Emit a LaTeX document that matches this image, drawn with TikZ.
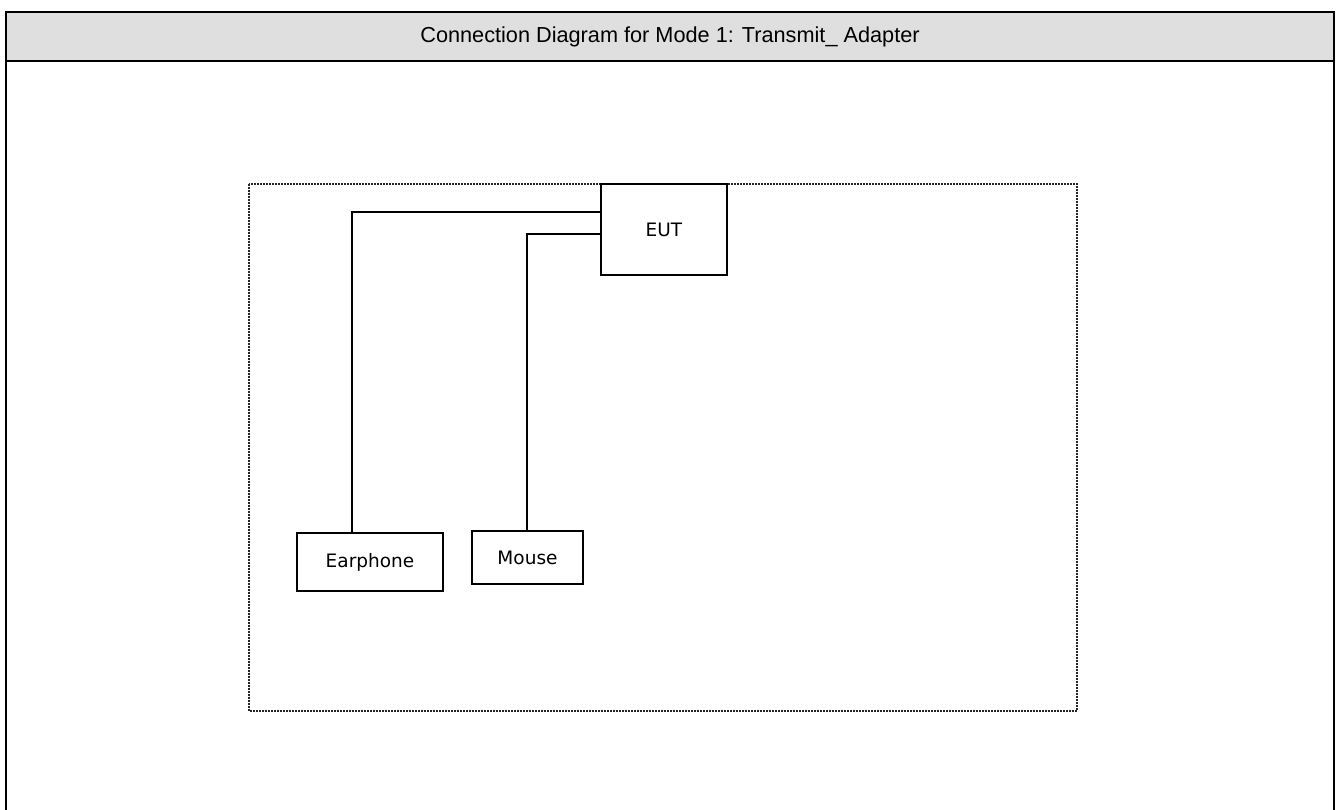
\documentclass[tikz,border=0pt]{standalone}
\usepackage{fontspec}
\setmainfont{Liberation Sans}
\newfontfamily\labelfont{DejaVu Sans}
\definecolor{hdr}{HTML}{DFDFDF}
\begin{document}
\begin{tikzpicture}[x=1pt,y=-1pt,
  box/.style={draw=black,line width=1.4pt,fill=white,inner sep=0pt,font=\labelfont\fontsize{18.5}{22}\selectfont},
  wire/.style={draw=black,line width=1.4pt},
  frame/.style={draw=black,line width=2.2pt}]
\useasboundingbox (0,0) rectangle (1341,810);
\fill[hdr] (6,12) rectangle (1334,61);
\draw[frame] (6,810) -- (6,12) -- (1334,12) -- (1334,810);
\draw[frame] (6,61) -- (1334,61);
\node[font=\fontsize{21.7}{25}\selectfont] (title) at (670,36.5) {Connection Diagram for Mode 1: Transmit\_ Adapter};
\draw[black!85,line width=1.5pt,dash pattern=on 2pt off 1pt] (249,184) rectangle (1077,711);
\node[box,minimum width=126pt,minimum height=91pt] (eut) at (664,229.5) {EUT};
\node[box,minimum width=146pt,minimum height=58pt] (earphone) at (370,562) {Earphone};
\node[box,minimum width=111pt,minimum height=53pt] (mouse) at (527.5,557.5) {Mouse};
\coordinate (c1) at (352,212);
\coordinate (c2) at (527,234);
\draw[wire] (earphone.north -| c1) -- (c1) -- (c1 -| eut.west);
\draw[wire] (mouse.north -| c2) -- (c2) -- (c2 -| eut.west);
\end{tikzpicture}
\end{document}
